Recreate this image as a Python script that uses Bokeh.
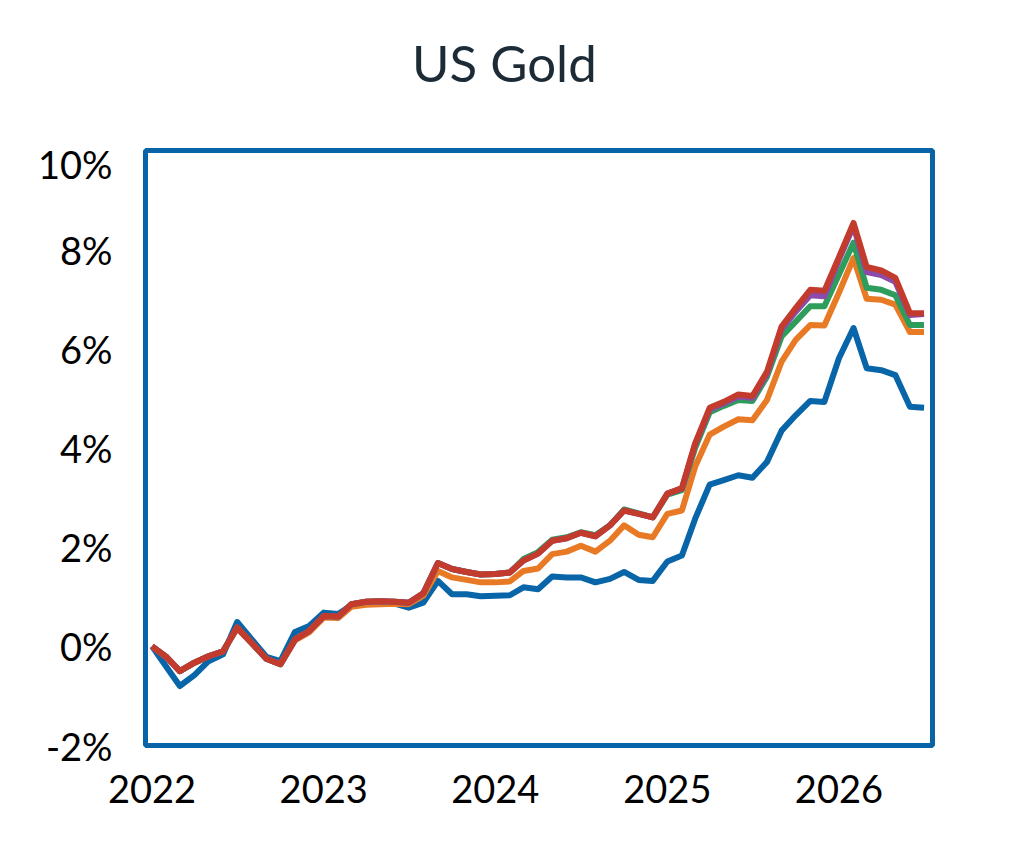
import pandas as pd
from bokeh.embed import file_html
from bokeh.resources import INLINE
from bokeh.layouts import column
from bokeh.models import (ColumnDataSource, Range1d, FixedTicker, DatetimeTickFormatter,
                          PrintfTickFormatter, Div)
from bokeh.plotting import figure

# monthly points, Jan 2022 .. Jul 2026 (percent)
months = pd.date_range("2022-01-01", "2026-07-01", freq="MS")

blue = [0.00, -0.42, -0.80, -0.58, -0.30, -0.16, 0.49, 0.14, -0.21, -0.30, 0.29, 0.41, 0.68, 0.65,
        0.83, 0.88, 0.88, 0.86, 0.78, 0.88, 1.32, 1.05, 1.05, 1.01, 1.02, 1.03, 1.19, 1.15,
        1.41, 1.39, 1.39, 1.29, 1.36, 1.50, 1.34, 1.32, 1.71, 1.83, 2.57, 3.26, 3.35,
        3.45, 3.40, 3.72, 4.35, 4.66, 4.95, 4.93, 5.81, 6.42, 5.61, 5.57, 5.47, 4.83, 4.81]
orange = [0.00, -0.22, -0.50, -0.33, -0.20, -0.10, 0.36, 0.06, -0.25, -0.36, 0.12, 0.28, 0.58, 0.57,
          0.80, 0.84, 0.85, 0.86, 0.85, 1.02, 1.52, 1.39, 1.34, 1.29, 1.29, 1.31, 1.52, 1.57,
          1.86, 1.91, 2.03, 1.91, 2.13, 2.44, 2.25, 2.20, 2.67, 2.74, 3.62, 4.27, 4.43,
          4.58, 4.56, 4.97, 5.74, 6.18, 6.48, 6.47, 7.13, 7.83, 7.01, 6.99, 6.89, 6.34, 6.34]
green = [0.00, -0.22, -0.50, -0.33, -0.20, -0.10, 0.38, 0.07, -0.25, -0.36, 0.14, 0.31, 0.61, 0.60,
         0.85, 0.90, 0.91, 0.90, 0.88, 1.07, 1.68, 1.56, 1.50, 1.45, 1.46, 1.49, 1.76, 1.90,
         2.15, 2.20, 2.30, 2.24, 2.44, 2.76, 2.68, 2.60, 3.06, 3.15, 4.00, 4.72, 4.85,
         4.97, 4.95, 5.44, 6.25, 6.55, 6.86, 6.86, 7.50, 8.14, 7.23, 7.19, 7.08, 6.48, 6.48]
purple = [0.00, -0.22, -0.50, -0.33, -0.20, -0.10, 0.38, 0.07, -0.25, -0.36, 0.14, 0.31, 0.61, 0.60,
          0.85, 0.90, 0.91, 0.90, 0.88, 1.07, 1.68, 1.56, 1.50, 1.45, 1.46, 1.49, 1.73, 1.87,
          2.13, 2.18, 2.29, 2.22, 2.44, 2.74, 2.67, 2.60, 3.08, 3.18, 4.07, 4.78, 4.90,
          5.04, 5.01, 5.50, 6.40, 6.75, 7.08, 7.06, 7.80, 8.48, 7.55, 7.49, 7.35, 6.68, 6.70]
red = [0.00, -0.22, -0.50, -0.33, -0.20, -0.10, 0.38, 0.07, -0.25, -0.36, 0.14, 0.31, 0.61, 0.60,
       0.85, 0.90, 0.91, 0.90, 0.88, 1.07, 1.68, 1.56, 1.50, 1.45, 1.46, 1.49, 1.73, 1.87,
       2.13, 2.18, 2.29, 2.22, 2.44, 2.74, 2.67, 2.60, 3.08, 3.19, 4.09, 4.81, 4.93,
       5.08, 5.05, 5.54, 6.45, 6.82, 7.19, 7.17, 7.85, 8.54, 7.65, 7.58, 7.43, 6.72, 6.72]

year_ticks = pd.to_datetime(["2022-01-01", "2023-01-01", "2024-01-01", "2025-01-01", "2026-01-01"])

source = ColumnDataSource(data=dict(date=months, blue=blue, orange=orange, green=green,
                                    purple=purple, red=red))

FONT = "Lato"
FRAME_BLUE = "#0864a6"

# title sits in its own strip above the plot
title = Div(text='<div style="margin:0; padding:37px 0 0 412px; font-family:Lato; '
                 'font-size:51px; line-height:1; color:#1c2b36; white-space:nowrap;">'
                 'US Gold</div>',
            width=987, height=140, margin=0)

p = figure(x_axis_type="datetime", output_backend="svg", toolbar_location=None,
           frame_width=787, frame_height=595,
           min_border_left=145, min_border_right=55, min_border_top=10, min_border_bottom=90)
p.x_range = Range1d(pd.Timestamp("2021-12-18"), pd.Timestamp("2026-07-19"))
p.y_range = Range1d(-2, 10)

colors = {"blue": "#0865a8", "orange": "#e87a25", "green": "#2e9c5a",
          "purple": "#8a4bab", "red": "#c23b2c"}
for name in ["blue", "orange", "green", "purple", "red"]:
    p.line("date", name, source=source, line_color=colors[name], line_width=6,
           line_join="round")

p.outline_line_color = FRAME_BLUE
p.outline_line_width = 5
p.grid.grid_line_color = None

p.xaxis.ticker = FixedTicker(ticks=[t.value // 10**6 for t in year_ticks])
p.xaxis.formatter = DatetimeTickFormatter(years="%Y", months="%Y", days="%Y")
p.yaxis.ticker = FixedTicker(ticks=[-2, 0, 2, 4, 6, 8, 10])
p.yaxis.formatter = PrintfTickFormatter(format="%d%%")

for ax in (p.xaxis, p.yaxis):
    ax.axis_line_color = None
    ax.major_tick_line_color = None
    ax.minor_tick_line_color = None
    ax.major_label_text_font = FONT
    ax.major_label_text_font_size = "38px"
    ax.major_label_text_color = "black"
p.yaxis.major_label_standoff = 27
p.xaxis.major_label_standoff = 23

layout = column(title, p, spacing=0)
open("out.html", "w").write(file_html(layout, INLINE))
